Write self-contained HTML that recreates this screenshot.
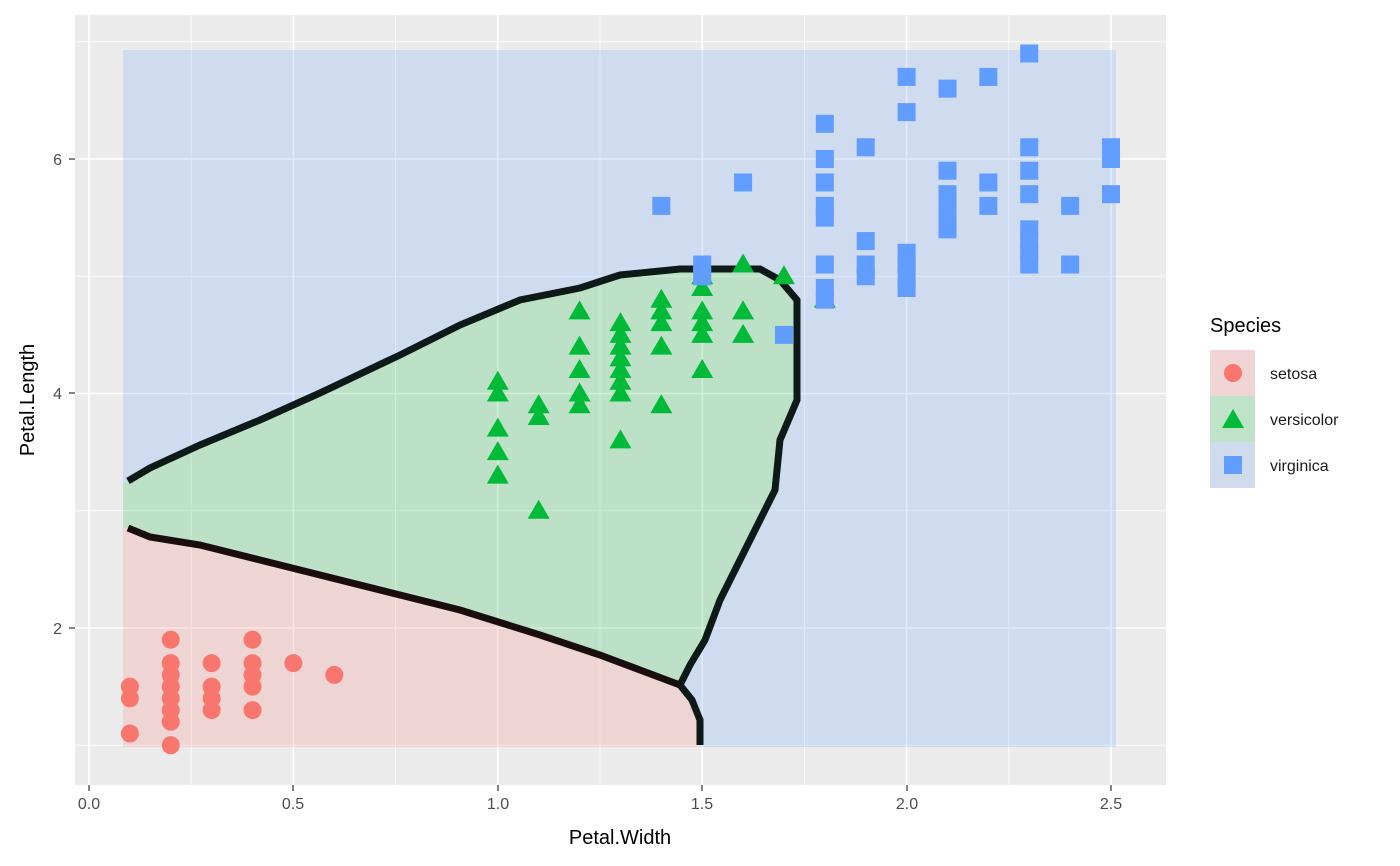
<!DOCTYPE html>
<html><head><meta charset="utf-8"><style>
body{margin:0;background:#fff;}
svg{display:block;font-family:"Liberation Sans",Arial,sans-serif;}
</style></head><body>
<svg id="s" width="1400" height="866" viewBox="0 0 1400 866" xmlns="http://www.w3.org/2000/svg">
<rect x="0" y="0" width="1400" height="866" fill="#fff"/>
<rect x="75" y="15" width="1091" height="770" fill="#ebebeb"/>
<g id="grid"></g>
<path fill="#619CFF" fill-opacity="0.2" fill-rule="evenodd" d="M123,50 H1116 V747 H123 Z M123,484 L128,481 150,468 200,445 260,420 320,393 400,355 460,325 520,300 580,288 620,275 680,269 760,269 780,280 797,300 797,400 780,440 775,490 760,520 740,560 720,600 705,640 690,665 680,685 692,700 700,720 700,747 123,747 Z"/>
<polygon fill="#F8766D" fill-opacity="0.2" points="123,528 128,528 150,537 200,545 260,560 320,575 400,595 460,610 540,635 600,655 640,670 680,685 692,700 700,720 700,747 123,747"/>
<polygon fill="#00BA38" fill-opacity="0.2" points="123,484 128,481 150,468 200,445 260,420 320,393 400,355 460,325 520,300 580,288 620,275 680,269 760,269 780,280 797,300 797,400 780,440 775,490 760,520 740,560 720,600 705,640 690,665 680,685 640,670 600,655 540,635 460,610 400,595 320,575 260,560 200,545 150,537 128,528 123,528"/>
<polyline fill="none" stroke="#0d1a17" stroke-width="7" points="128,481 150,468 200,445 260,420 320,393 400,355 460,325 520,300 580,288 620,275 680,269 760,269 780,280 797,300 797,400 780,440 775,490 760,520 740,560 720,600 705,640 690,665 680,685 692,700 700,720 700,745"/>
<polyline fill="none" stroke="#1a0d0d" stroke-width="7" points="128,528 150,537 200,545 260,560 320,575 400,595 460,610 540,635 600,655 640,670 680,685"/>
<g id="pts"></g>
<g fill="#4d4d4d" font-size="16" text-anchor="middle">
<text x="89" y="809">0.0</text><text x="293" y="809">0.5</text><text x="498" y="809">1.0</text><text x="702" y="809">1.5</text><text x="907" y="809">2.0</text><text x="1111" y="809">2.5</text>
<text x="62" y="165" text-anchor="end">6</text><text x="62" y="399" text-anchor="end">4</text><text x="62" y="634" text-anchor="end">2</text>
</g>
<g stroke="#333" stroke-width="1.2">
<line x1="89" y1="785" x2="89" y2="791"/><line x1="293" y1="785" x2="293" y2="791"/><line x1="498" y1="785" x2="498" y2="791"/><line x1="702" y1="785" x2="702" y2="791"/><line x1="907" y1="785" x2="907" y2="791"/><line x1="1111" y1="785" x2="1111" y2="791"/>
<line x1="69" y1="159" x2="75" y2="159"/><line x1="69" y1="393" x2="75" y2="393"/><line x1="69" y1="628" x2="75" y2="628"/>
</g>
<text x="620" y="844" font-size="20" text-anchor="middle" fill="#000">Petal.Width</text>
<text transform="translate(34,400) rotate(-90)" font-size="20" text-anchor="middle" fill="#000">Petal.Length</text>
<text x="1210" y="332" font-size="20" fill="#000">Species</text>
<rect x="1210" y="350" width="45" height="46" fill="#f0d4d6"/>
<rect x="1210" y="396" width="45" height="46" fill="#bee3c9"/>
<rect x="1210" y="442" width="45" height="46" fill="#d0dcee"/>
<circle cx="1233" cy="373" r="9" fill="#F8766D"/>
<polygon points="1233,409 1244,428 1222,428" fill="#00BA38"/>
<rect x="1224" y="456" width="18" height="18" fill="#619CFF"/>
<g font-size="16" fill="#1a1a1a"><text x="1270" y="379">setosa</text><text x="1270" y="425">versicolor</text><text x="1270" y="471">virginica</text></g>
</svg>
<script>
var X=function(v){return 89+v*408.8},Y=function(v){return 159+(6-v)*117.25};
var g=document.getElementById('grid'),h='';
[0.25,0.75,1.25,1.75,2.25].forEach(function(v){h+='<line x1="'+X(v)+'" x2="'+X(v)+'" y1="15" y2="785" stroke="#fff" stroke-width="0.8"/>'});
[0,0.5,1,1.5,2,2.5].forEach(function(v){h+='<line x1="'+X(v)+'" x2="'+X(v)+'" y1="15" y2="785" stroke="#fff" stroke-width="1.6"/>'});
[1,3,5,7].forEach(function(v){h+='<line y1="'+Y(v)+'" y2="'+Y(v)+'" x1="75" x2="1166" stroke="#fff" stroke-width="0.8"/>'});
[2,4,6].forEach(function(v){h+='<line y1="'+Y(v)+'" y2="'+Y(v)+'" x1="75" x2="1166" stroke="#fff" stroke-width="1.6"/>'});
g.innerHTML=h;
var se=[[.1,1.5],[.1,1.4],[.1,1.1],[.2,1.9],[.2,1.7],[.2,1.6],[.2,1.5],[.2,1.4],[.2,1.3],[.2,1.2],[.2,1.0],[.3,1.7],[.3,1.5],[.3,1.4],[.3,1.3],[.4,1.9],[.4,1.7],[.4,1.6],[.4,1.5],[.4,1.3],[.5,1.7],[.6,1.6]];
var ve=[[1,4.1],[1,4],[1,3.7],[1,3.5],[1,3.3],[1.1,3.9],[1.1,3.8],[1.1,3],[1.2,4.7],[1.2,4.4],[1.2,4.2],[1.2,4],[1.2,3.9],[1.3,4.6],[1.3,4.5],[1.3,4.4],[1.3,4.3],[1.3,4.2],[1.3,4.1],[1.3,4],[1.3,3.6],[1.4,4.8],[1.4,4.7],[1.4,4.6],[1.4,4.4],[1.4,3.9],[1.5,5],[1.5,4.9],[1.5,4.7],[1.5,4.6],[1.5,4.5],[1.5,4.2],[1.6,5.1],[1.6,4.7],[1.6,4.5],[1.7,5],[1.8,4.8]];
var vi=[[1.4,5.6],[1.5,5.1],[1.5,5],[1.6,5.8],[1.7,4.5],[1.8,6.3],[1.8,6],[1.8,5.8],[1.8,5.6],[1.8,5.5],[1.8,5.1],[1.8,4.9],[1.8,4.8],[1.9,6.1],[1.9,5.3],[1.9,5.1],[1.9,5],[2,6.7],[2,6.4],[2,5.2],[2,5.1],[2,5],[2,4.9],[2.1,6.6],[2.1,5.9],[2.1,5.7],[2.1,5.6],[2.1,5.5],[2.1,5.4],[2.2,6.7],[2.2,5.8],[2.2,5.6],[2.3,6.9],[2.3,6.1],[2.3,5.9],[2.3,5.7],[2.3,5.4],[2.3,5.3],[2.3,5.2],[2.3,5.1],[2.4,5.6],[2.4,5.1],[2.5,6.1],[2.5,6],[2.5,5.7]];
var p='';
se.forEach(function(d){p+='<circle cx="'+X(d[0])+'" cy="'+Y(d[1])+'" r="9" fill="#F8766D"/>'});
ve.forEach(function(d){var x=X(d[0]),y=Y(d[1]);p+='<polygon points="'+x+','+(y-11)+' '+(x+11)+','+(y+8)+' '+(x-11)+','+(y+8)+'" fill="#00BA38"/>'});
vi.forEach(function(d){p+='<rect x="'+(X(d[0])-9)+'" y="'+(Y(d[1])-9)+'" width="18" height="18" fill="#619CFF"/>'});
document.getElementById('pts').innerHTML=p;
</script>
</body></html>
